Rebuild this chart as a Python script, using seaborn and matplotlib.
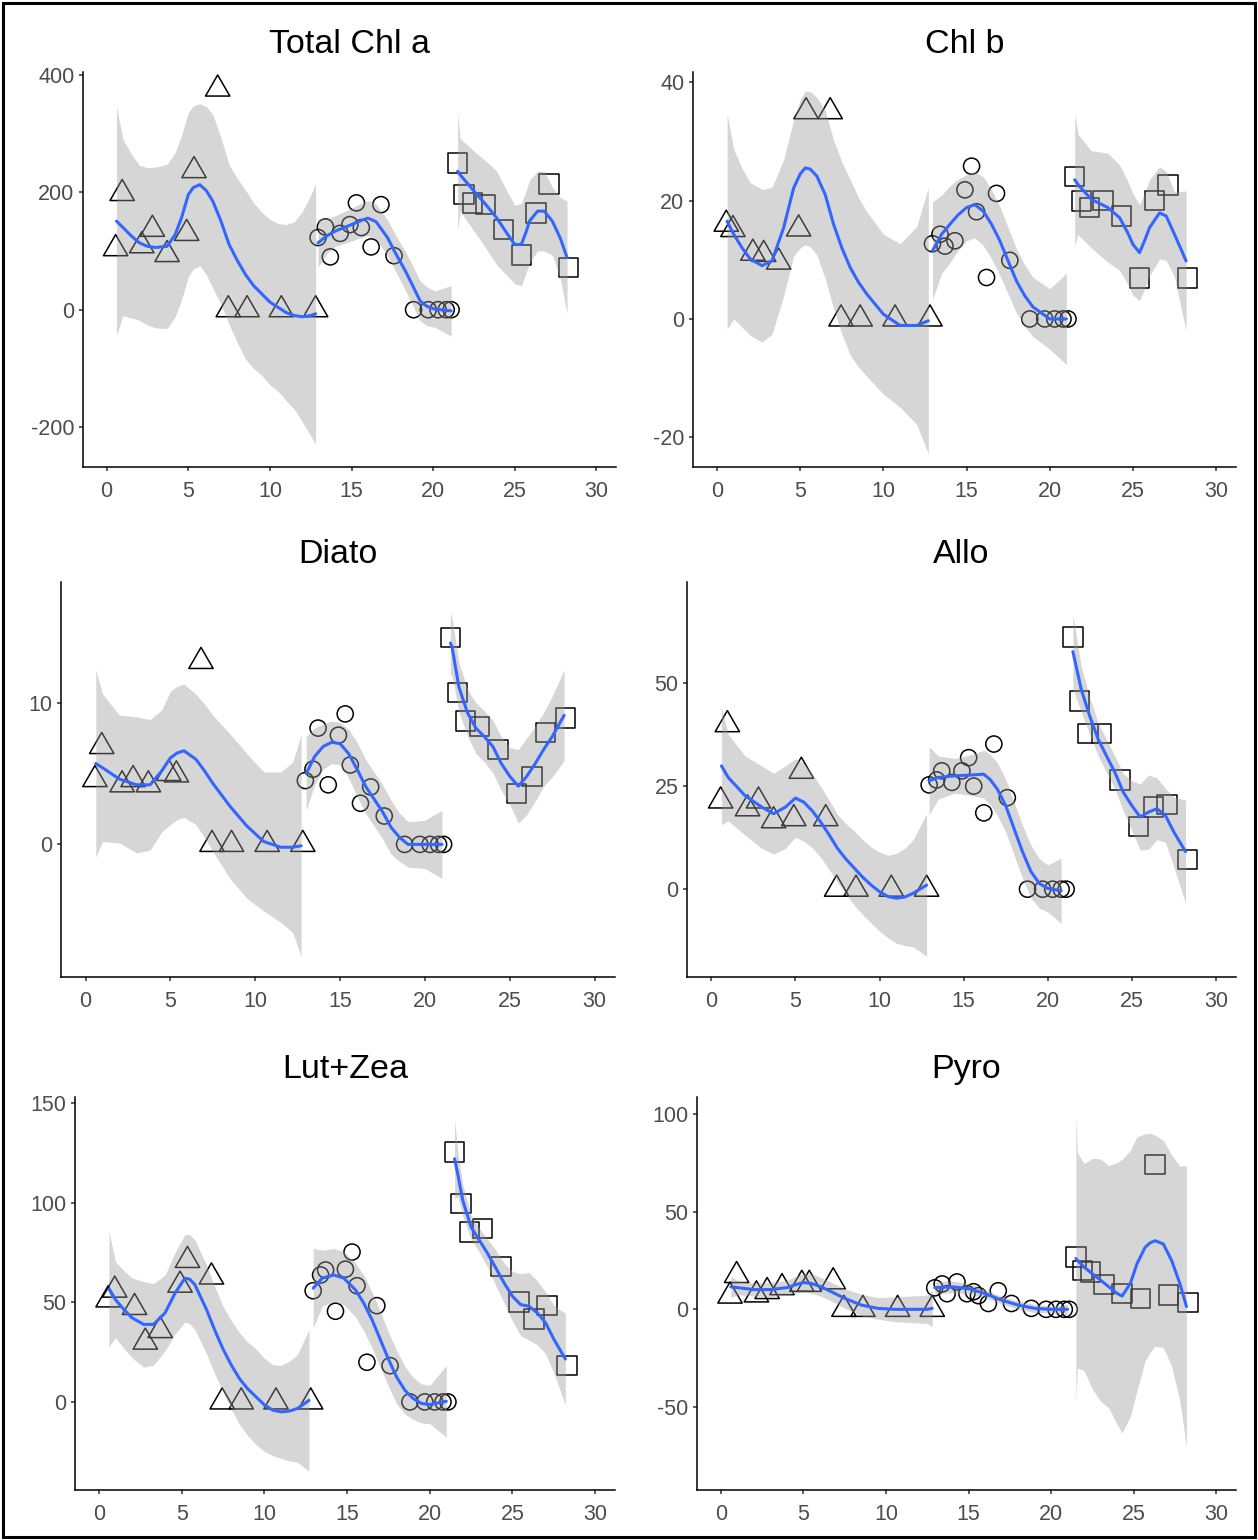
import numpy as np
import pandas as pd
import matplotlib
matplotlib.use("Agg")
import matplotlib.pyplot as plt
from matplotlib.path import Path
from matplotlib.patches import Rectangle
import seaborn as sns

# ---- sampling positions of the three transects ----
x_g1 = [0.55, 0.95, 2.15, 2.8, 3.7, 4.9, 5.35, 6.8, 7.45, 8.6, 10.7, 12.8]
x_g2 = [12.95, 13.4, 13.7, 14.3, 14.9, 15.3, 15.6, 16.2, 16.8, 17.6, 18.8, 19.7, 20.3, 20.8, 21.1]
x_g3 = [21.5, 21.9, 22.4, 23.2, 24.3, 25.4, 26.3, 27.1, 28.3]

# ---- pigment concentrations per transect ----
chla_y1 = [104, 198, 109, 137, 94, 130, 237, 376, 0, 0, 0, 0]
chla_y2 = [123, 141, 90, 130, 145, 182, 140, 107, 179, 92, 0, 0, 0, 0, 0]
chla_y3 = [250, 196, 182, 179, 137, 93, 165, 214, 72]

chlb_y1 = [16.0, 15.1, 11.1, 10.9, 9.6, 15.2, 35.0, 35.0, 0, 0, 0, 0]
chlb_y2 = [12.7, 14.3, 12.3, 13.2, 21.8, 25.8, 18.1, 7.0, 21.2, 9.9, 0, 0, 0, 0, 0]
chlb_y3 = [24.1, 19.9, 18.8, 20.0, 17.4, 6.9, 20.0, 22.6, 6.9]

diato_y1 = [4.57, 6.9, 4.2, 4.57, 4.2, 5.0, 4.9, 12.9, 0, 0, 0, 0]
diato_y2 = [4.5, 5.3, 8.2, 4.2, 7.7, 9.2, 5.6, 2.9, 4.05, 2.0, 0, 0, 0, 0, 0]
diato_y3 = [14.6, 10.7, 8.7, 8.3, 6.7, 3.6, 4.8, 7.9, 8.9]

allo_y1 = [21.4, 39.9, 19.5, 21.4, 16.6, 17.1, 28.6, 17.1, 0, 0, 0, 0]
allo_y2 = [25.3, 26.5, 28.7, 25.9, 28.7, 31.9, 25.0, 18.5, 35.2, 22.2, 0, 0, 0, 0, 0]
allo_y3 = [61.2, 45.6, 37.8, 37.7, 26.5, 15.2, 19.9, 20.5, 7.2]

lutzea_y1 = [51.2, 56.1, 47.4, 30.0, 35.8, 58.6, 71.0, 62.7, 0, 0, 0, 0]
lutzea_y2 = [55.8, 63.7, 66.2, 45.5, 66.6, 75.2, 58.3, 19.9, 48.3, 18.2, 0, 0, 0, 0, 0]
lutzea_y3 = [125.5, 99.7, 85.3, 86.9, 67.9, 50.2, 41.7, 48.3, 18.2]

pyro_y1 = [6.8, 17.3, 7.4, 9.1, 11.1, 12.8, 12.8, 14.1, 0, 0, 0, 0]
pyro_y2 = [11.0, 13.0, 8.0, 14.0, 8.0, 9.0, 7.0, 3.0, 9.5, 3.0, 0.5, 0, 0, 0, 0]
pyro_y3 = [26.7, 19.9, 19.1, 12.8, 8.1, 5.6, 74.0, 7.3, 3.4]

# ---- smoothed trend per transect: (x, fitted value, half-width of band) ----
chla_sm1 = [(0.6, 151, 195), (1, 140, 150), (1.5, 126, 140), (2, 114, 132), (2.5, 108, 134),
            (3, 106, 137), (3.7, 108, 140), (4.2, 128, 140), (4.6, 158, 140), (5, 196, 140),
            (5.3, 208, 139), (5.7, 213, 138), (6.1, 203, 143), (6.5, 185, 148), (7, 151, 142),
            (7.5, 111, 136), (8, 84, 140), (8.5, 60, 144), (9, 41, 141), (9.5, 27, 139),
            (10, 13, 141), (10.5, 4, 143), (11, -5, 150), (11.5, -10, 160), (12, -12, 180),
            (12.5, -10, 205), (12.8, -7, 222)]
chla_sm2 = [(12.95, 114, 41), (13.5, 126, 30), (14, 134, 26), (15, 145, 28), (15.5, 151, 29),
            (16, 156, 30), (16.5, 150, 30), (17.2, 123, 30), (17.7, 96, 31), (18.3, 66, 33),
            (18.8, 38, 34), (19.2, 15, 34), (19.6, 6, 33), (20.1, 1, 31), (21.1, -2, 43)]
chla_sm3 = [(21.5, 236, 100), (21.65, 230, 62), (22.5, 202, 68), (23.2, 180, 74), (23.9, 156, 80),
            (24.5, 131, 72), (25.0, 111, 67), (25.4, 111, 70), (25.7, 133, 70), (25.9, 151, 70),
            (26.4, 168, 68), (26.8, 168, 68), (27.3, 151, 58), (27.8, 121, 70), (28.2, 89, 96)]

chlb_sm1 = [(0.6, 16.5, 18.2), (1, 14.3, 14.3), (1.5, 12.0, 13.4), (2, 10.1, 12.9), (2.7, 9.0, 12.9),
            (3.3, 9.8, 12.4), (4, 15.4, 11.5), (4.6, 22.1, 11.5), (5.0, 24.5, 12.5), (5.3, 25.5, 13.0),
            (5.6, 25.3, 13.1), (6, 24.1, 13.3), (6.5, 21.0, 14.2), (7, 16.0, 14.2), (7.5, 12.0, 14.5),
            (8, 8.7, 14.8), (8.5, 6.2, 14.3), (9, 4.2, 13.9), (10, 0.8, 13.5), (11, -1.1, 13.8),
            (12, -1.1, 16.7), (12.7, -0.3, 22.5)]
chlb_sm2 = [(12.95, 11.5, 8.3), (13.5, 14.3, 6.6), (14, 16.0, 6.5), (14.5, 17.6, 6.0), (15, 18.8, 5.6),
            (15.5, 19.3, 5.6), (16, 18.2, 5.8), (16.5, 16.0, 5.8), (17, 13.2, 5.8), (17.5, 9.8, 5.6),
            (18, 6.4, 5.4), (18.5, 3.9, 5.2), (19, 2.0, 5.0), (20, 0.0, 5.1), (21, 0.0, 7.7)]
chlb_sm3 = [(21.5, 23.5, 11.0), (21.7, 22.7, 8.5), (22.5, 20.2, 8.2), (23.5, 18.8, 9.2), (24.2, 17.1, 8.9),
            (24.7, 14.5, 8.7), (25, 12.6, 8.6), (25.4, 11.2, 8.1), (25.7, 13.2, 8.1), (26, 15.4, 8.1),
            (26.6, 17.9, 7.8), (27, 17.4, 7.5), (27.5, 14.3, 7.2), (28.2, 9.8, 11.8)]

diato_sm1 = [(0.6, 5.7, 6.6), (1, 5.4, 5.2), (2, 4.6, 4.5), (3, 4.2, 4.8), (3.8, 4.2, 4.6),
             (4.5, 5.2, 4.3), (5, 6.1, 4.7), (5.4, 6.45, 4.7), (5.8, 6.6, 4.7), (6.5, 6.0, 4.6),
             (7, 5.2, 4.7), (7.5, 4.3, 4.8), (8.5, 2.7, 5.1), (9.5, 1.3, 5.1), (10.5, 0.2, 4.9),
             (11.5, -0.2, 5.3), (12.2, -0.2, 6.0), (12.7, -0.1, 7.8)]
diato_sm2 = [(13, 5.0, 2.6), (13.5, 6.2, 2.0), (14, 6.9, 1.6), (14.5, 7.2, 1.5), (15, 7.1, 1.5),
             (15.5, 6.4, 1.7), (16, 5.3, 1.9), (16.5, 4.1, 1.9), (17, 3.2, 1.9), (17.5, 2.3, 1.9),
             (18, 1.2, 1.9), (18.5, 0.5, 1.7), (19, 0.0, 1.6), (20, 0.0, 1.7), (21, 0.0, 2.4)]
diato_sm3 = [(21.5, 14.2, 2.2), (21.6, 13.9, 2.0), (22, 11.1, 1.75), (22.5, 9.3, 1.65), (23, 8.2, 1.8),
             (23.5, 7.6, 1.8), (24, 6.9, 1.85), (24.5, 5.7, 1.9), (25, 4.8, 2.0), (25.5, 4.1, 2.6),
             (26, 4.8, 2.7), (26.5, 5.7, 2.65), (27, 6.7, 2.6), (27.5, 7.6, 2.85), (28.2, 9.1, 3.2)]

allo_sm1 = [(0.6, 29.9, 14.3), (1, 27.1, 10.5), (2, 22.7, 9.6), (3, 19.9, 10.0), (3.7, 18.3, 9.8),
            (4.4, 19.9, 10.0), (5, 22.1, 9.5), (5.5, 21.1, 9.5), (6, 19.0, 9.0), (6.5, 16.3, 8.6),
            (7, 13.2, 8.4), (7.5, 9.9, 8.2), (8, 7.3, 8.6), (8.5, 5.1, 9.0), (9, 2.9, 9.1),
            (9.5, 1.0, 9.2), (10, -0.6, 9.6), (10.5, -1.8, 10.0), (11, -2.2, 10.9), (11.5, -1.9, 11.8),
            (12, -1.0, 13.0), (12.8, 1.0, 17.3)]
allo_sm2 = [(12.95, 26.3, 8.2), (13.5, 27.1, 5.2), (14.5, 27.5, 4.2), (15.5, 27.7, 5.0), (16.2, 27.9, 5.8),
            (16.6, 26.5, 6.1), (17, 24.3, 6.4), (17.5, 20.3, 6.4), (18, 14.7, 6.4), (18.5, 9.1, 6.4),
            (19, 4.3, 6.4), (19.5, 1.4, 6.0), (20, 0.2, 5.7), (20.8, -0.4, 7.9)]
allo_sm3 = [(21.5, 57.6, 9.0), (22, 48.4, 5.5), (22.5, 42.0, 4.5), (23, 36.4, 4.0), (23.5, 32.3, 4.0),
            (24, 28.3, 4.0), (24.5, 23.5, 4.5), (25, 20.3, 6.0), (25.5, 17.5, 8.0), (26, 18.7, 9.0),
            (26.5, 19.5, 7.5), (27, 17.9, 6.5), (27.5, 13.9, 8.5), (28.2, 9.1, 12.5)]

lutzea_sm1 = [(0.6, 56.6, 29), (1, 51.3, 19), (1.5, 46.4, 19.5), (2, 42.2, 20), (2.7, 38.9, 21.5),
              (3.3, 38.9, 20.5), (4, 44.7, 19), (4.6, 54.6, 20.5), (5.2, 62.1, 22), (5.5, 61.5, 22.3),
              (5.8, 58.8, 22.5), (6.5, 46.4, 22.3), (7, 36.0, 21.9), (7.5, 26.5, 21.5), (8, 18.5, 22.2),
              (8.5, 11.6, 23), (9, 6.5, 23.5), (9.5, 2.5, 24), (10, -1.5, 23.4), (10.5, -4.1, 22.8),
              (11, -5.0, 23.3), (11.5, -4.6, 25), (12, -3.3, 27), (12.7, 0.8, 35.6)]
lutzea_sm2 = [(12.95, 57.1, 20), (13.5, 62.1, 14), (14.2, 63.7, 13.3), (14.8, 62.1, 13.3), (15.5, 56.3, 13.5),
              (16, 49.7, 14), (16.5, 41.4, 14), (17, 31.5, 14), (17.5, 21.5, 13.5), (18, 12.4, 13.3),
              (18.5, 5.8, 12), (19, 1.7, 10.5), (19.5, -0.8, 9.8), (20, -1.3, 9.6), (21, 0.3, 18)]
lutzea_sm3 = [(21.5, 122, 20), (21.7, 114, 11), (22, 101, 8), (22.5, 87.7, 6), (23, 81.1, 6),
              (23.5, 74.5, 7), (24, 67.1, 9), (24.5, 59.6, 10), (25, 53.0, 12.5), (25.5, 48.8, 15.5),
              (26, 48.0, 17), (26.5, 44.7, 16), (27, 39.7, 15.5), (27.5, 31.5, 17), (28.2, 21.5, 23)]

pyro_sm1 = [(0.6, 11.5, 5.5), (1, 11.1, 3.6), (2, 10.1, 3.3), (3, 10.1, 3.6), (4, 11.1, 3.8),
            (4.6, 12.8, 4.3), (5, 13.7, 4.6), (5.5, 13.2, 5.0), (6, 11.7, 4.8), (6.5, 9.8, 4.7),
            (7.5, 5.6, 5.0), (8.5, 2.2, 5.5), (9.5, 0.5, 5.5), (10.5, 0.0, 6.3), (11.5, 0.0, 6.8),
            (12.5, 0.0, 7.2), (12.8, 0.5, 9.3)]
pyro_sm2 = [(12.95, 11.1, 3.0), (14, 11.5, 3.0), (15, 10.6, 2.6), (16, 8.1, 2.1), (17, 4.7, 1.9),
            (18, 2.2, 2.1), (19, 0.5, 2.1), (20, 0.0, 1.7), (21, 0.0, 2.6)]
pyro_sm3 = [(21.5, 26, 73), (21.6, 25, 55), (22, 21.6, 53), (22.5, 18.2, 59), (23, 14.9, 62),
            (23.5, 11.5, 62), (24, 8.1, 67), (24.3, 6.8, 70), (24.8, 13.2, 68), (25.2, 23.3, 65),
            (25.7, 31.8, 58), (26, 34.0, 56), (26.3, 35.1, 54), (26.8, 33.4, 53), (27.3, 25.0, 54),
            (27.8, 13.2, 60), (28.2, 1.4, 72)]

titles = ["Total Chl a", "Chl b", "Diato", "Allo", "Lut+Zea", "Pyro"]
x_ticks = [0, 5, 10, 15, 20, 25, 30]
y_ticks = [[-200, 0, 200, 400], [-20, 0, 20, 40], [0, 10], [0, 25, 50], [0, 50, 100, 150], [-50, 0, 50, 100]]
y_limits = [(-268, 405), (-25, 41.7), (-9.35, 18.5), (-21.3, 74.5), (-44.2, 153), (-92.4, 108.6)]

points = [(chla_y1, chla_y2, chla_y3), (chlb_y1, chlb_y2, chlb_y3), (diato_y1, diato_y2, diato_y3),
          (allo_y1, allo_y2, allo_y3), (lutzea_y1, lutzea_y2, lutzea_y3), (pyro_y1, pyro_y2, pyro_y3)]
smooths = [(chla_sm1, chla_sm2, chla_sm3), (chlb_sm1, chlb_sm2, chlb_sm3), (diato_sm1, diato_sm2, diato_sm3),
           (allo_sm1, allo_sm2, allo_sm3), (lutzea_sm1, lutzea_sm2, lutzea_sm3), (pyro_sm1, pyro_sm2, pyro_sm3)]

# ---- styling ----
sns.set_theme(style="ticks")
plt.rcParams["font.family"] = ["Liberation Sans", "DejaVu Sans"]
plt.rcParams["axes.unicode_minus"] = False

W, H, DPI = 1258, 1540, 100
fig = plt.figure(figsize=(W / DPI, H / DPI), dpi=DPI)
fig.patch.set_facecolor("white")

# panel boxes in pixels: left, top, right, bottom
boxes = [(83, 72, 616, 467), (693, 72, 1236, 467),
         (61, 582, 615, 977), (687, 582, 1236, 977),
         (75, 1097, 615, 1490), (697, 1097, 1236, 1490)]

# open triangle centred on its centroid
tri = Path([(0, 1), (-0.866, -0.5), (0.866, -0.5), (0, 1)],
           [Path.MOVETO, Path.LINETO, Path.LINETO, Path.CLOSEPOLY])
markers = [tri, "o", "s"]
sizes = [410, 135, 195]
xs_groups = [x_g1, x_g2, x_g3]

for i, title in enumerate(titles):
    l, t, r, b = boxes[i]
    ax = fig.add_axes([l / W, 1 - b / H, (r - l) / W, (b - t) / H])
    ax.set_facecolor("white")

    for g in range(3):
        df = pd.DataFrame({"x": xs_groups[g], "y": points[i][g]})
        sns.scatterplot(data=df, x="x", y="y", marker=markers[g], s=sizes[g],
                        facecolor="none", edgecolor="black", linewidth=1.1,
                        ax=ax, zorder=2, legend=False)

    for g in range(3):
        arr = np.array(smooths[i][g], dtype=float)
        sx, fit, hw = arr[:, 0], arr[:, 1], arr[:, 2]
        ax.fill_between(sx, fit - hw, fit + hw, color="#999999", alpha=0.4, lw=0, zorder=3)
        sns.lineplot(x=sx, y=fit, color="#3366FF", lw=2.2, ax=ax, zorder=4,
                     estimator=None, sort=False, solid_joinstyle="round",
                     solid_capstyle="round")

    ax.set_xlim(-1.45, 31.2)
    ax.set_ylim(*y_limits[i])
    ax.set_xticks(x_ticks)
    ax.set_yticks(y_ticks[i])
    ax.set_xlabel("")
    ax.set_ylabel("")
    sns.despine(ax=ax)
    for side in ("left", "bottom"):
        ax.spines[side].set_color("black")
        ax.spines[side].set_linewidth(1.1)
    ax.tick_params(axis="both", length=3.2, width=1.1, color="#333333",
                   labelsize=15.5, labelcolor="#4D4D4D", pad=3)
    ax.tick_params(axis="x", pad=7)
    ax.set_title(title, fontsize=24.5, color="black", pad=14)

# outer frame
fig.patches.append(Rectangle((3 / W, 3 / H), (W - 6) / W, (H - 6) / H,
                             transform=fig.transFigure, fill=False,
                             edgecolor="black", linewidth=2.2))

fig.savefig("out.png", dpi=DPI)
